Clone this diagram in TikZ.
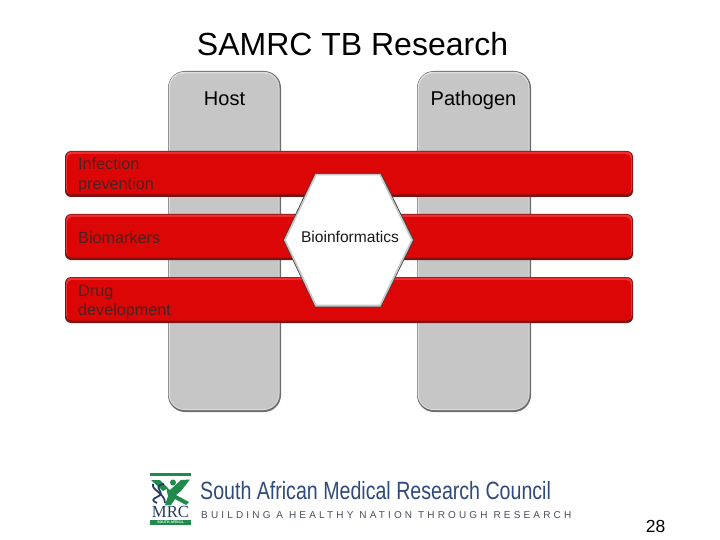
\documentclass[tikz,border=0pt]{standalone}
\usepackage{fontspec}
\usepackage{graphicx}
\setmainfont{Liberation Sans}
\newfontfamily\logoserif{Liberation Serif}
\definecolor{barred}{HTML}{DD0606}
\definecolor{bardark}{HTML}{7E1212}
\definecolor{barlight}{HTML}{F03030}
\definecolor{colgray}{HTML}{C6C6C6}
\definecolor{coldark}{HTML}{6E6E6E}
\definecolor{barink}{HTML}{4A2220}
\definecolor{navy}{HTML}{2F4A7C}
\definecolor{mrcgreen}{HTML}{1F8A4C}
\definecolor{tagink}{HTML}{4A4E58}
\tikzset{
  x=1pt,y=-1pt,
  coledge/.style={fill=coldark,rounded corners=17pt},
  colhigh/.style={fill=white!75!gray,rounded corners=16pt},
  colbody/.style={fill=colgray,rounded corners=14pt},
  baredge/.style={fill=bardark,rounded corners=6pt},
  barhigh/.style={fill=barlight,rounded corners=5pt},
  barbody/.style={fill=barred,rounded corners=5pt},
  collabel/.style={font=\fontsize{20}{22}\selectfont,text=black,anchor=base},
  barlabel/.style={font=\fontsize{16.2}{19.5}\selectfont,text=barink,anchor=west,align=left,inner sep=0pt},
}
\begin{document}
\begin{tikzpicture}
\useasboundingbox (0,0) rectangle (720,540);
\fill[white] (0,0) rectangle (720,540);
% columns
\foreach \xa/\xb in {168/281,417/531}{
  \fill[coledge] (\xa,71) rectangle (\xb,412);
  \fill[colhigh] (\xa+0.6,71.8) rectangle (\xb-1.5,410);
  \fill[colbody] (\xa+2,73.5) rectangle (\xb-2.5,409);
}
\node[collabel] (host) at (224.5,105.5) {Host};
\node[collabel] (pathogen) at (473.5,105.5) {Pathogen};
% bars
\foreach \ya/\yb in {151/197,214/260,277/323}{
  \fill[baredge] (65,\ya) rectangle (633,\yb);
  \fill[barhigh] (66,\ya+0.6) rectangle (632,\yb-3);
  \fill[barbody] (67,\ya+3) rectangle (631,\yb-2.5);
}
\node[barlabel] (infection) at (78,175.5) {Infection\\prevention};
\node[barlabel] (biomarkers) at (78,238) {Biomarkers};
\node[barlabel] (drug) at (78,302) {Drug\\development};
% hexagon
\fill[black!75] (315,173) -- (381,173) -- (414,240) -- (381,307) -- (315,307) -- (283,240) -- cycle;
\fill[gray!45] (315.4,174) -- (380.6,174) -- (413,240) -- (380.6,306.5) -- (315.4,306.5) -- (284,240) -- cycle;
\fill[white] (316.5,175.5) -- (379.5,175.5) -- (411,240) -- (379.5,304.5) -- (316.5,304.5) -- (286,240) -- cycle;
\node[font=\fontsize{15.6}{18}\selectfont,text=black!90] (bio) at (350,237) {Bioinformatics};
% title
\node[font=\fontsize{32}{36}\selectfont,text=black] (title) at (352.5,44) {SAMRC TB Research};
% logo mark
\fill[mrcgreen] (150,472.5) rectangle (191,475.5);
\fill[mrcgreen] (150,520) rectangle (191,524.5);
\fill[mrcgreen] (151,480) -- (160,480) -- (168,488) -- (163,491) -- cycle;
\fill[mrcgreen] (166,487) -- (170,490) -- (181,480) -- (190,479.5) -- (181,491) -- (176,495) -- (189,502) -- (186,505) -- (175,499) -- (171,505) -- (165,505) -- (168,496) -- cycle;
\fill[mrcgreen] (173,482.5) circle (3);
\draw[navy!80!black,line width=1.7pt] (164,484) .. controls (150,486) and (168,493) .. (157,497) .. controls (152,499) and (152,501) .. (157,503);
\draw[navy!80!black,line width=1.7pt] (153,484) .. controls (151,490) and (165,493) .. (165,503);
\node[font=\logoserif\fontsize{17}{18}\selectfont,text=navy!80!black,inner sep=0pt] (mrc) at (170.5,511.5) {\scalebox{0.98}[1]{MRC}};
\node[font=\fontsize{3.5}{4}\selectfont\bfseries,text=white,inner sep=0pt] (sa) at (170.5,522.3) {SOUTH AFRICA};
% logo text
\node[font=\fontsize{25}{28}\selectfont,text=navy,inner sep=0pt,anchor=west] (samrc) at (200,491) {\scalebox{0.784}[1]{South African Medical Research Council}};
\node[font=\fontsize{10}{12}\selectfont,text=tagink,inner sep=0pt,anchor=west] (tag) at (201,515.5) {\addfontfeature{LetterSpace=31.6}BUILDING A HEALTHY NATION THROUGH RESEARCH};
% page number
\node[font=\fontsize{17.5}{18}\selectfont,text=black] (page) at (655.5,526.5) {28};
\end{tikzpicture}
\end{document}
